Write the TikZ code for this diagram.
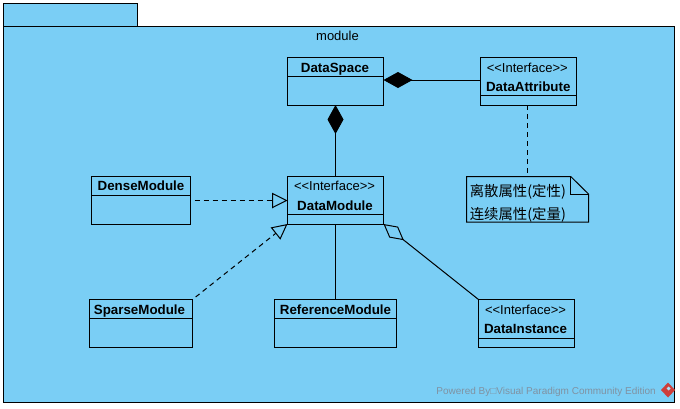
\documentclass[tikz,border=0pt]{standalone}
\usepackage{fontspec}
\setmainfont{Liberation Sans}
\newfontfamily\cjkfont{Noto Sans CJK SC}
\usetikzlibrary{arrows.meta,calc}
\definecolor{pkgblue}{RGB}{122,206,245}
\definecolor{markgray}{RGB}{128,146,162}
\definecolor{markred}{RGB}{206,62,58}
\tikzset{
	classbox/.style 2 args={draw=black, line width=0.75pt, inner sep=0, outer sep=0, minimum width=#1*0.75pt, minimum height=#2*0.75pt},
	classname/.style={font=\fontsize{10}{11}\selectfont\bfseries, inner sep=0, text height=7.2pt, text depth=0pt},
	stereo/.style={font=\fontsize{9.75}{11}\selectfont, inner sep=0},
	notetext/.style={font=\fontsize{10.8}{12}\selectfont\cjkfont, inner sep=0, anchor=west},
	link/.style={line width=0.75pt},
	realize/.style={line width=0.75pt, dash pattern=on 3.75pt off 3pt},
	composite/.style={-{}, {Diamond[fill=black, length=21.75pt, width=12pt]}-, line width=0.75pt},
	aggregate/.style={{Diamond[open, length=19.5pt, width=10.5pt]}-, line width=0.75pt},
	generalize/.style={dash phase=3.75pt, -{Triangle[open, length=11.5pt, width=11.5pt, line width=0.75pt]}}
}

\begin{document}
\begin{tikzpicture}[x=0.75pt, y=-0.75pt]
	%%%%% START %%%%%
	\useasboundingbox (0, 0) rectangle (680, 408);
	
	\draw[fill=pkgblue, line width=0.75pt] (3, 3) rectangle (137, 26);
	\draw[fill=pkgblue, line width=0.75pt] (3, 26) rectangle (674.5, 402.5);
	\node[stereo] (moduleLabel) at (337.5, 35.5) {module};
	
	\node[classbox={96}{47.5}] (dataSpace) at (335.5, 81.25) {};
	\node[classname] (dataSpaceName) at (335, 67.5) {DataSpace};
	\draw[link] (dataSpace.west |- 0, 76.5) -- (dataSpace.east |- 0, 76.5);
	
	\node[classbox={95.5}{47.5}] (dataAttribute) at (528.25, 81.25) {};
	\node[stereo] (dataAttributeStereo) at (527.25, 67.5) {<{}<Interface>{}>};
	\node[classname] (dataAttributeName) at (528.25, 86.5) {DataAttribute};
	\draw[link] (dataAttribute.west |- 0, 95.5) -- (dataAttribute.east |- 0, 95.5);
	
	\node[classbox={99}{47.5}] (denseModule) at (141, 200.25) {};
	\node[classname] (denseModuleName) at (141, 186) {DenseModule};
	\draw[link] (denseModule.west |- 0, 195.5) -- (denseModule.east |- 0, 195.5);
	
	\node[classbox={96}{47.5}] (dataModule) at (335.5, 200.25) {};
	\node[stereo] (dataModuleStereo) at (334.5, 186) {<{}<Interface>{}>};
	\node[classname] (dataModuleName) at (335, 205.5) {DataModule};
	\draw[link] (dataModule.west |- 0, 214.5) -- (dataModule.east |- 0, 214.5);
	
	\node[classbox={103}{48}] (sparseModule) at (141, 323.5) {};
	\node[classname] (sparseModuleName) at (139.5, 309.5) {SparseModule};
	\draw[link] (sparseModule.west |- 0, 318.5) -- (sparseModule.east |- 0, 318.5);
	
	\node[classbox={122}{48}] (referenceModule) at (335.5, 323.5) {};
	\node[classname] (referenceModuleName) at (335.5, 309.5) {ReferenceModule};
	\draw[link] (referenceModule.west |- 0, 318.5) -- (referenceModule.east |- 0, 318.5);
	
	\node[classbox={96}{48}] (dataInstance) at (526.5, 323.5) {};
	\node[stereo] (dataInstanceStereo) at (525.5, 309.5) {<{}<Interface>{}>};
	\node[classname] (dataInstanceName) at (525.5, 328.5) {DataInstance};
	\draw[link] (dataInstance.west |- 0, 338.5) -- (dataInstance.east |- 0, 338.5);
	
	\node[inner sep=0, outer sep=0, minimum width=91.5pt, minimum height=34.125pt] (noteBox) at (527.5, 199.25) {};
	\draw[link] (noteBox.north west) -- (570.7, 176.5) -- (noteBox.east |- 0, 194) -- (noteBox.south east) -- (noteBox.south west) -- cycle;
	\draw[link] (570.7, 176.5) -- (570.7, 194) -- (noteBox.east |- 0, 194);
	\node[notetext] (noteLineA) at (469.5, 192) {离散属性(定性)};
	\node[notetext] (noteLineB) at (469.5, 215) {连续属性(定量)};
	
	\draw[composite] (dataSpace.south) -- (dataModule.north);
	\draw[composite] (dataSpace.east |- 0, 80) -- (dataAttribute.west |- 0, 80);
	\draw[realize] (dataAttribute.south -| noteBox.north) -- (noteBox.north);
	
	\draw[realize, generalize] (denseModule.east |- 0, 200.5) -- (dataModule.west |- 0, 200.5);
	\draw[realize, generalize] (sparseModule.north east) -- (dataModule.south west);
	\draw[link] (dataModule.south) -- (referenceModule.north);
	\draw[aggregate] (dataModule.south east) -- (dataInstance.north west);
	
	\node[font=\fontsize{7.5}{10}\selectfont, text=markgray, inner sep=0, anchor=east] (poweredBy) at (656, 391.5) {Powered By□Visual Paradigm Community Edition};
	\fill[markred] (668, 382.5) -- (675, 390) -- (668, 397.5) -- (661, 390) -- cycle;
	\fill[pkgblue!60!white] (668.5, 386.5) -- (670.5, 388.5) -- (668.5, 390.5) -- (666.5, 388.5) -- cycle;
	
	%%%%% END %%%%%
\end{tikzpicture}
\end{document}
